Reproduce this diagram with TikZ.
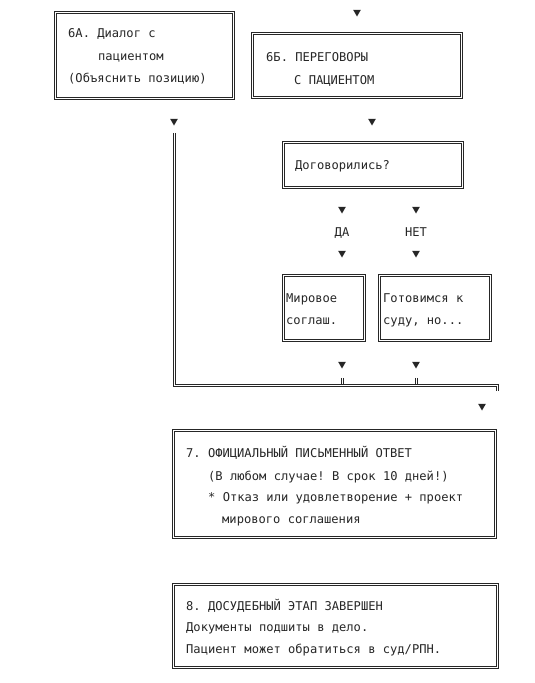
\documentclass[tikz,border=0pt]{standalone}
\usepackage{fontspec}
\setmonofont{DejaVu Sans Mono}
\usetikzlibrary{shapes.geometric}
\begin{document}
\begin{tikzpicture}[x=1pt,y=-1pt,
 ln/.style={draw=black!85, line width=0.7pt},
 box/.style={rectangle, inner sep=0pt, outer sep=0pt},
 txt/.style={anchor=mid west, inner sep=0pt, yshift=-2pt, font=\ttfamily\fontsize{12.1}{14}\selectfont, text=black!85},
 ctxt/.style={txt, anchor=mid},
 tri/.style={regular polygon, regular polygon sides=3, shape border rotate=180, fill=black!85, inner sep=0pt, minimum size=9pt}]
\useasboundingbox (0,0) rectangle (535,683);

% boxes
\node[box, minimum width=178pt, minimum height=86pt] (b6a) at (144,55) {};
\node[box, minimum width=209pt, minimum height=64pt] (b6b) at (356.5,65) {};
\node[box, minimum width=179pt, minimum height=45pt] (bq) at (372.5,164.5) {};
\node[box, minimum width=81pt, minimum height=65pt] (bm) at (323.5,307.5) {};
\node[box, minimum width=111pt, minimum height=65pt] (bg) at (434.5,307.5) {};
\node[box, minimum width=322pt, minimum height=107pt] (b7) at (334,483.5) {};
\node[box, minimum width=324pt, minimum height=83pt] (b8) at (335,625.5) {};
\foreach \n in {b6a,b6b,bq,bm,bg,b7,b8}{
  \draw[ln] ([shift={(-1.1,-1.1)}]\n.north west) rectangle ([shift={(1.1,1.1)}]\n.south east);
  \draw[ln] ([shift={(1.1,1.1)}]\n.north west) rectangle ([shift={(-1.1,-1.1)}]\n.south east);
}

% texts
\node[txt] (t6a1) at (68,33) {6А. Диалог с};
\node[txt] (t6a2) at (98,56) {пациентом};
\node[txt] (t6a3) at (68,78) {(Объяснить позицию)};
\node[txt] (t6b1) at (266,57) {6Б. ПЕРЕГОВОРЫ};
\node[txt] (t6b2) at (294,80) {С ПАЦИЕНТОМ};
\node[txt] (tq) at (295,165) {Договорились?};
\node[ctxt] (tda) at (342,232) {ДА};
\node[ctxt] (tnet) at (416,232) {НЕТ};
\node[txt] (tm1) at (286,298) {Мировое};
\node[txt] (tm2) at (286,320) {соглаш.};
\node[txt] (tg1) at (383,298) {Готовимся к};
\node[txt] (tg2) at (383,320) {суду, но...};
\node[txt] (t71) at (186,453) {7. ОФИЦИАЛЬНЫЙ ПИСЬМЕННЫЙ ОТВЕТ};
\node[txt] (t72) at (208,476) {(В любом случае! В срок 10 дней!)};
\node[txt] (t73) at (208,497) {* Отказ или удовлетворение + проект};
\node[txt] (t74) at (222,519) {мирового соглашения};
\node[txt] (t81) at (186,606) {8. ДОСУДЕБНЫЙ ЭТАП ЗАВЕРШЕН};
\node[txt] (t82) at (186,627) {Документы подшиты в дело.};
\node[txt] (t83) at (186,649) {Пациент может обратиться в суд/РПН.};

% arrow heads
\node[tri] (a0) at (357,12) {};
\node[tri] (a1) at (174,121) {};
\node[tri] (a2) at (372,121) {};
\node[tri] (a3) at (342,209) {};
\node[tri] (a4) at (416,209) {};
\node[tri] (a5) at (342,253) {};
\node[tri] (a6) at (416,253) {};
\node[tri] (a7) at (342,364) {};
\node[tri] (a8) at (416,364) {};
\node[tri] (a9) at (482,406) {};

% connectors (double lines drawn as two strokes)
\coordinate (c0) at ([yshift=-7pt]a1.south);
\coordinate (c1) at (174,385);
\coordinate (c2) at (497,385);
\coordinate (c3) at (497,391);
\draw[ln] ([xshift=-1.1pt]c0) -- ([shift={(-1.1,1.1)}]c1) -- ([shift={(-1.1,1.1)}]c2) -- ([xshift=-1.1pt]c3);
\draw[ln] ([xshift=1.1pt]c0) -- ([shift={(1.1,-1.1)}]c1) -- ([shift={(1.1,-1.1)}]c2) -- ([xshift=1.1pt]c3);
\foreach \a in {a7,a8}{
  \draw[ln] ([shift={(-1.1,9)}]\a.south) -- ([xshift=-1.1pt]\a.south |- c1);
  \draw[ln] ([shift={(1.1,9)}]\a.south) -- ([xshift=1.1pt]\a.south |- c1);
}
\end{tikzpicture}
\end{document}
